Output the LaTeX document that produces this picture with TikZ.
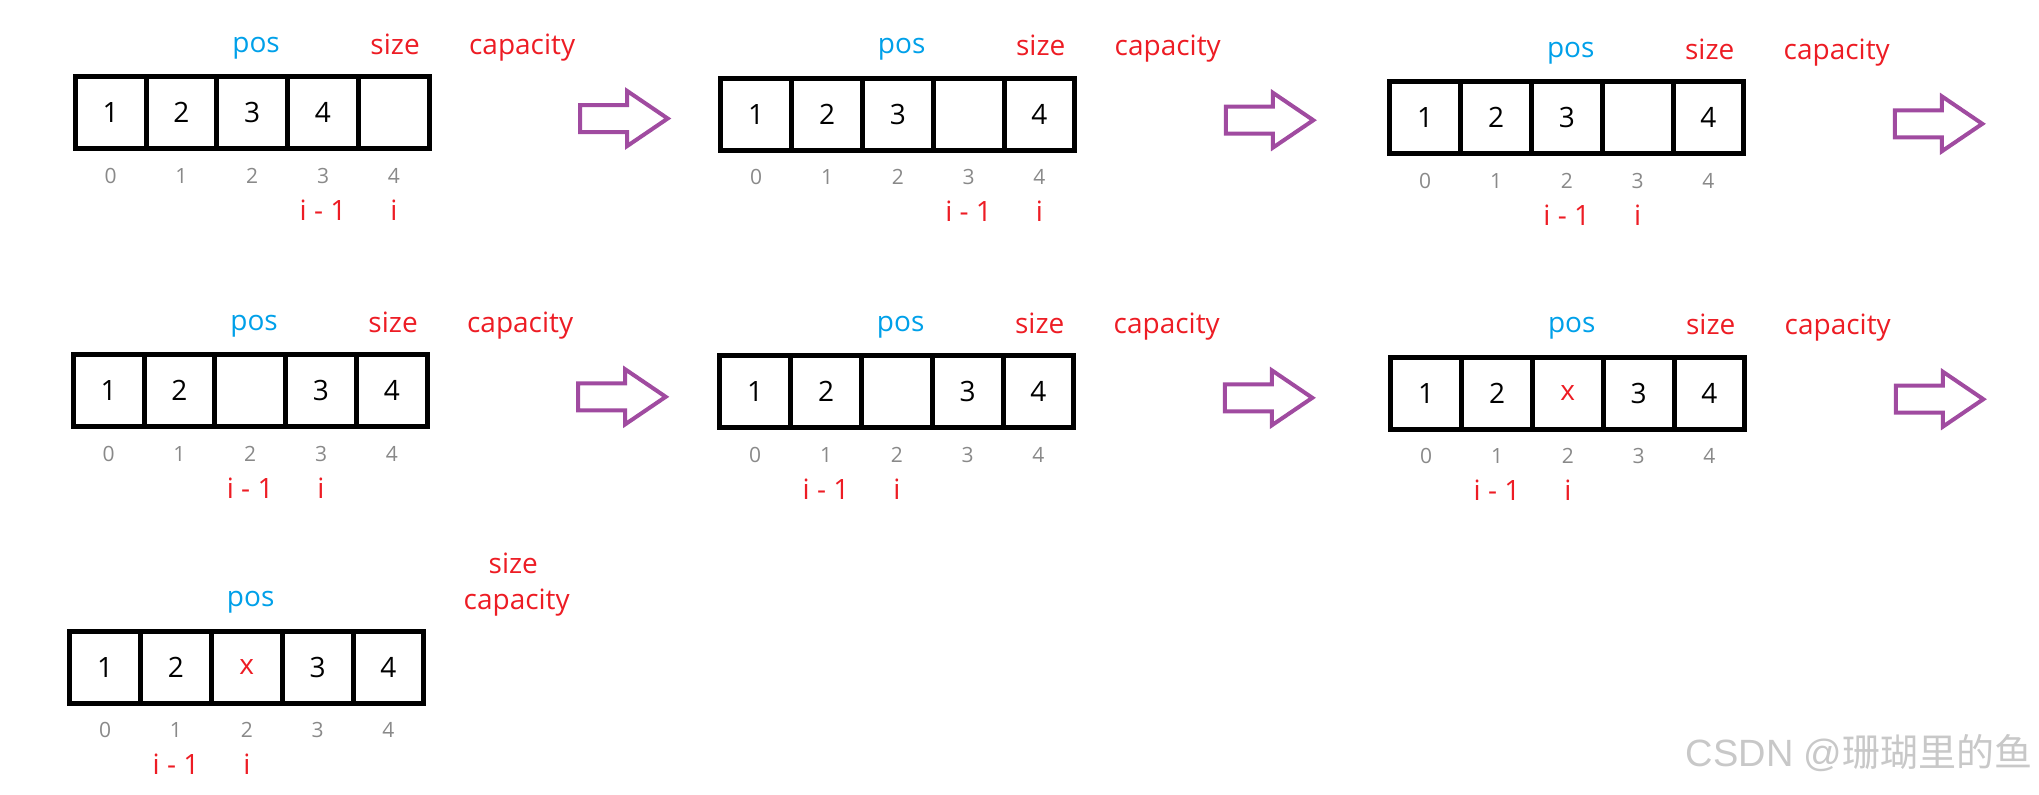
\documentclass[tikz,border=0pt]{standalone}
\usepackage{fontspec}
\setmainfont{Open Sans}
\newfontfamily\wmfont{Liberation Sans}
\newfontfamily\cjkfont{Noto Sans CJK SC}
\definecolor{posblue}{RGB}{0,160,233}
\definecolor{ptrred}{RGB}{237,28,36}
\definecolor{idxgray}{RGB}{137,137,137}
\definecolor{arrowpurple}{RGB}{160,75,160}
\definecolor{markgray}{RGB}{200,200,200}
\tikzset{
  cell/.style={draw, line width=2.5pt, minimum width=35.4pt, minimum height=36pt, inner sep=0pt, font=\fontsize{14}{16}\selectfont},
  idx/.style={anchor=base, inner sep=0pt, text=idxgray, font=\fontsize{10.5}{12}\selectfont},
  ptr/.style={anchor=base, inner sep=0pt, text=ptrred, font=\fontsize{14}{16}\selectfont},
  poslabel/.style={ptr, text=posblue},
  caplabel/.style={ptr, anchor=base west},
  nextarrow/.pic={
    \draw[draw=arrowpurple, line width=2pt] (0,-13.5) -- (47,-13.5) -- (47,-27.5) -- (87.5,0)
      -- (47,27.5) -- (47,13.5) -- (0,13.5) -- cycle;
  },
  watermark/.style={anchor=base east, inner sep=0pt, text=markgray, font=\wmfont\fontsize{19}{21}\selectfont}
}
\begin{document}
\begin{tikzpicture}[x=0.5pt,y=-0.5pt]
\useasboundingbox (0,0) rectangle (2039,794);
% row 1
\begin{scope}[shift={(72.7,74)}]
\foreach \v [count=\k from 0] in {1,2,3,4,{}}
  \node[cell] (p1c\k) at (37.9+70.8*\k,38.5) {\v};
\foreach \k in {0,...,4}
  \node[idx] (p1i\k) at (37.9+70.8*\k,109) {\k};
\node[poslabel] (p1pos) at (183.4,-22) {pos};
\node[ptr] (p1size) at (322.4,-20) {size};
\node[caplabel] (p1cap) at (396,-20) {capacity};
\node[ptr] (p1prev) at (250.3,146) {i - 1};
\node[ptr] (p1cur) at (321.1,146) {i};
\pic (p1next) at (507.5,44.5) {nextarrow};
\end{scope}
\begin{scope}[shift={(718.3,75.7)}]
\foreach \v [count=\k from 0] in {1,2,3,{},4}
  \node[cell] (p2c\k) at (37.9+70.8*\k,38.5) {\v};
\foreach \k in {0,...,4}
  \node[idx] (p2i\k) at (37.9+70.8*\k,109) {\k};
\node[poslabel] (p2pos) at (183.4,-22) {pos};
\node[ptr] (p2size) at (322.4,-20) {size};
\node[caplabel] (p2cap) at (396,-20) {capacity};
\node[ptr] (p2prev) at (250.3,146) {i - 1};
\node[ptr] (p2cur) at (321.1,146) {i};
\pic (p2next) at (507.5,44.5) {nextarrow};
\end{scope}
\begin{scope}[shift={(1387.3,79.3)}]
\foreach \v [count=\k from 0] in {1,2,3,{},4}
  \node[cell] (p3c\k) at (37.9+70.8*\k,38.5) {\v};
\foreach \k in {0,...,4}
  \node[idx] (p3i\k) at (37.9+70.8*\k,109) {\k};
\node[poslabel] (p3pos) at (183.4,-22) {pos};
\node[ptr] (p3size) at (322.4,-20) {size};
\node[caplabel] (p3cap) at (396,-20) {capacity};
\node[ptr] (p3prev) at (179.5,146) {i - 1};
\node[ptr] (p3cur) at (250.3,146) {i};
\pic (p3next) at (507.5,44.5) {nextarrow};
\end{scope}
% row 2
\begin{scope}[shift={(70.7,352.3)}]
\foreach \v [count=\k from 0] in {1,2,{},3,4}
  \node[cell] (p4c\k) at (37.9+70.8*\k,38.5) {\v};
\foreach \k in {0,...,4}
  \node[idx] (p4i\k) at (37.9+70.8*\k,109) {\k};
\node[poslabel] (p4pos) at (183.4,-22) {pos};
\node[ptr] (p4size) at (322.4,-20) {size};
\node[caplabel] (p4cap) at (396,-20) {capacity};
\node[ptr] (p4prev) at (179.5,146) {i - 1};
\node[ptr] (p4cur) at (250.3,146) {i};
\pic (p4next) at (507.5,44.5) {nextarrow};
\end{scope}
\begin{scope}[shift={(717.3,353.3)}]
\foreach \v [count=\k from 0] in {1,2,{},3,4}
  \node[cell] (p5c\k) at (37.9+70.8*\k,38.5) {\v};
\foreach \k in {0,...,4}
  \node[idx] (p5i\k) at (37.9+70.8*\k,109) {\k};
\node[poslabel] (p5pos) at (183.4,-22) {pos};
\node[ptr] (p5size) at (322.4,-20) {size};
\node[caplabel] (p5cap) at (396,-20) {capacity};
\node[ptr] (p5prev) at (108.7,146) {i - 1};
\node[ptr] (p5cur) at (179.5,146) {i};
\pic (p5next) at (507.5,44.5) {nextarrow};
\end{scope}
\begin{scope}[shift={(1388.3,354.7)}]
\foreach \v [count=\k from 0] in {1,2,{\textcolor{ptrred}{x}},3,4}
  \node[cell] (p6c\k) at (37.9+70.8*\k,38.5) {\v};
\foreach \k in {0,...,4}
  \node[idx] (p6i\k) at (37.9+70.8*\k,109) {\k};
\node[poslabel] (p6pos) at (183.4,-22) {pos};
\node[ptr] (p6size) at (322.4,-20) {size};
\node[caplabel] (p6cap) at (396,-20) {capacity};
\node[ptr] (p6prev) at (108.7,146) {i - 1};
\node[ptr] (p6cur) at (179.5,146) {i};
\pic (p6next) at (507.5,44.5) {nextarrow};
\end{scope}
% row 3
\begin{scope}[shift={(67.3,628.7)}]
\foreach \v [count=\k from 0] in {1,2,{\textcolor{ptrred}{x}},3,4}
  \node[cell] (p7c\k) at (37.9+70.8*\k,38.5) {\v};
\foreach \k in {0,...,4}
  \node[idx] (p7i\k) at (37.9+70.8*\k,109) {\k};
\node[poslabel] (p7pos) at (183.4,-22) {pos};
\node[ptr] (p7size) at (446,-55.5) {size};
\node[caplabel] (p7cap) at (396,-19) {capacity};
\node[ptr] (p7prev) at (108.7,146) {i - 1};
\node[ptr] (p7cur) at (179.5,146) {i};
\end{scope}
\node[watermark] (mark) at (2033,766) {CSDN @{\cjkfont 珊瑚里的鱼}};
\end{tikzpicture}
\end{document}
